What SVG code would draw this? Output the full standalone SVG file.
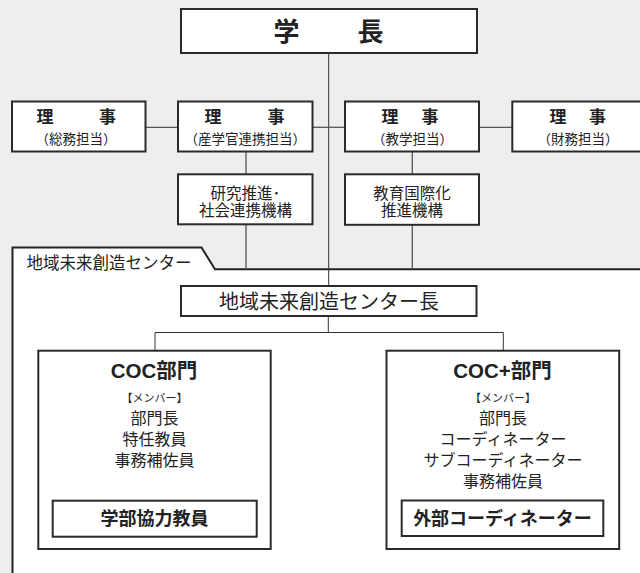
<svg xmlns="http://www.w3.org/2000/svg" width="640" height="573" viewBox="0 0 640 573">
<style>
text{font-family:"Noto Sans CJK JP","Noto Sans",sans-serif;fill:#222;text-anchor:middle}
.box{fill:#fff;stroke:#2a2a2a;stroke-width:2}
.b{font-weight:700}
.t{font-family:"Liberation Sans","Noto Sans CJK JP",sans-serif;font-weight:700}
.con{fill:none;stroke:#555;stroke-width:1.3}
.main{fill:none;stroke:#333;stroke-width:1}
</style>
<rect width="640" height="573" fill="#efeeec"/>
<g id="center-frame">
<path d="M12.5,574 V247.5 H201.5 L215,269.3 H642 V574 Z" fill="#fff" stroke="none"/>
<path d="M12.5,574 V247.5 H201.5 L215,269.3 H642" fill="none" stroke="#222" stroke-width="2"/>
<text x="26.5" y="269" font-size="16.5" style="text-anchor:start">地域未来創造センター</text>
</g>
<g id="connectors">
<line class="main" x1="328.7" y1="53" x2="328.7" y2="286"/>
<line class="con" x1="145" y1="127.3" x2="178" y2="127.3"/>
<line class="con" x1="313" y1="127.3" x2="345" y2="127.3"/>
<line class="con" x1="479" y1="127.3" x2="512" y2="127.3"/>
<line class="con" x1="246" y1="152" x2="246" y2="174"/>
<line class="con" x1="246" y1="224" x2="246" y2="269"/>
<line class="con" x1="412.3" y1="152" x2="412.3" y2="174"/>
<line class="con" x1="412.3" y1="225" x2="412.3" y2="269"/>
<path class="main" d="M328.3,316 V332.5 M155,351 V332.5 H503.3 V351"/>
</g>
<g id="president">
<rect class="box" x="181" y="9" width="296" height="44"/>
<text class="b" y="40.6" font-size="26"><tspan x="286.5">学</tspan><tspan x="370.5">長</tspan></text>
</g>
<g id="director-general">
<rect class="box" x="12" y="101.5" width="133.5" height="50"/>
<text class="b" y="122.5" font-size="17"><tspan x="45">理</tspan><tspan x="107.5">事</tspan></text>
<text x="76" y="144.2" font-size="13.5">（総務担当）</text>
</g>
<g id="director-industry">
<rect class="box" x="178" y="101.5" width="134.5" height="50"/>
<text class="b" y="122.5" font-size="17"><tspan x="213">理</tspan><tspan x="276">事</tspan></text>
<text x="245.3" y="144.2" font-size="13.5">（産学官連携担当）</text>
</g>
<g id="director-education">
<rect class="box" x="345" y="101.5" width="134" height="50"/>
<text class="b" y="122.5" font-size="17"><tspan x="390">理</tspan><tspan x="430">事</tspan></text>
<text x="412.5" y="144.2" font-size="13.5">（教学担当）</text>
</g>
<g id="director-finance">
<rect class="box" x="512.3" y="101.5" width="134" height="50"/>
<text class="b" y="122.5" font-size="17"><tspan x="558">理</tspan><tspan x="597.5">事</tspan></text>
<text x="578" y="144.2" font-size="13.5">（財務担当）</text>
</g>
<g id="research-org">
<rect class="box" x="178" y="174.3" width="134.5" height="50"/>
<text x="245.5" y="199" font-size="15.5">研究推進･</text>
<text x="245.5" y="216.3" font-size="15.5">社会連携機構</text>
</g>
<g id="intl-org">
<rect class="box" x="345" y="174.3" width="134" height="50.5"/>
<text x="412" y="199" font-size="15.5">教育国際化</text>
<text x="412" y="216.3" font-size="15.5">推進機構</text>
</g>
<g id="center-director">
<rect class="box" x="181" y="286" width="295.5" height="30"/>
<text x="329" y="308.5" font-size="20">地域未来創造センター長</text>
</g>
<g id="coc">
<rect class="box" x="38.3" y="350.7" width="232.4" height="198.3"/>
<text class="t" x="154" y="378" font-size="20.5">COC部門</text>
<text x="154.5" y="401.9" font-size="11">【メンバー】</text>
<text x="154.5" y="423.6" font-size="16">部門長</text>
<text x="154.5" y="445" font-size="16">特任教員</text>
<text x="154.5" y="466" font-size="16">事務補佐員</text>
<rect class="box" x="52.7" y="500.7" width="204" height="36"/>
<text class="b" x="154.5" y="525.3" font-size="18">学部協力教員</text>
</g>
<g id="coc-plus">
<rect class="box" x="386.5" y="350.7" width="232.7" height="198.3"/>
<text class="t" x="502.5" y="378" font-size="20.5">COC+部門</text>
<text x="503" y="401.9" font-size="11">【メンバー】</text>
<text x="503" y="423.6" font-size="16">部門長</text>
<text x="503" y="445" font-size="16">コーディネーター</text>
<text x="503" y="466" font-size="16">サブコーディネーター</text>
<text x="503" y="487" font-size="16">事務補佐員</text>
<rect class="box" x="401.7" y="500.5" width="201.6" height="35.5"/>
<text class="b" x="502.5" y="525.3" font-size="18">外部コーディネーター</text>
</g>
</svg>
